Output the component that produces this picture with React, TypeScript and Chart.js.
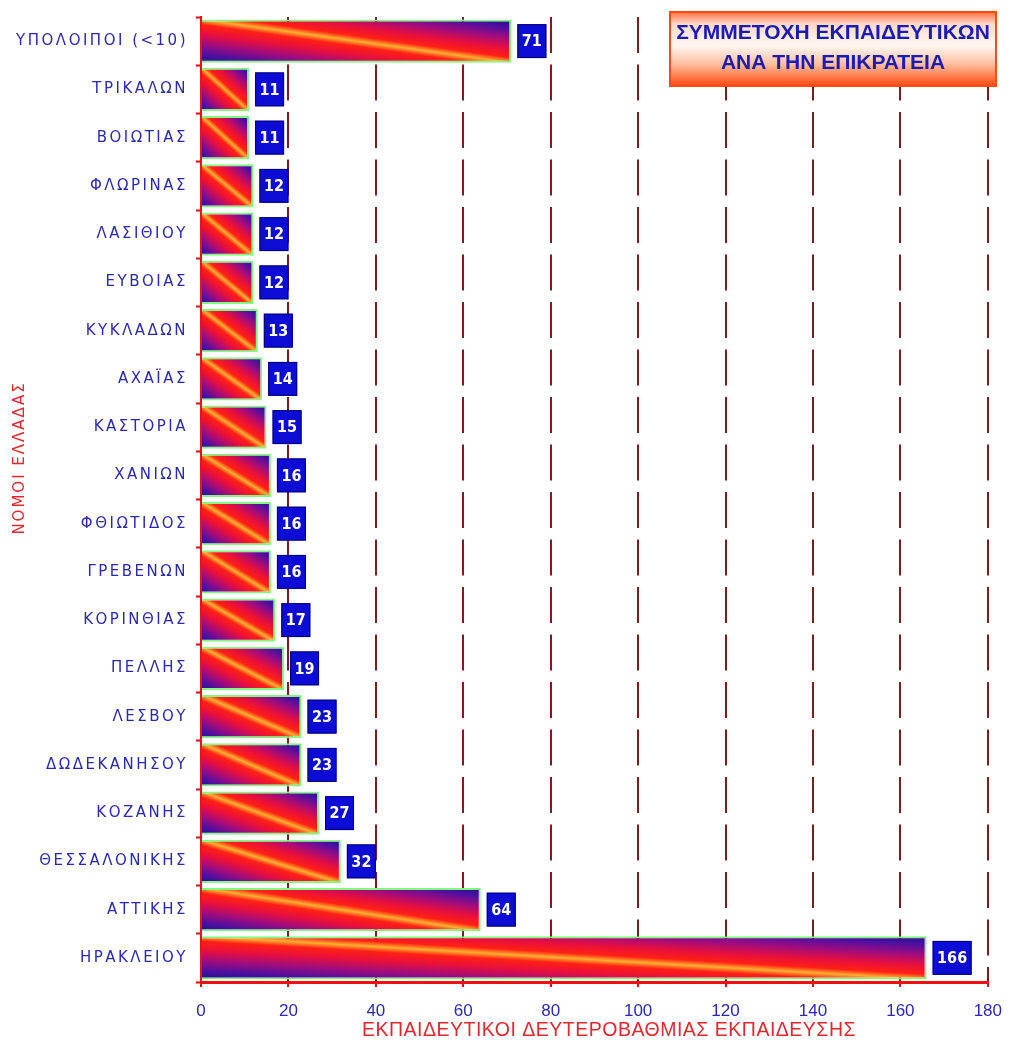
import React, { useEffect, useRef } from "react";
import { Chart, registerables } from "chart.js";

Chart.register(...registerables);

const categories = [
  "ΥΠΟΛΟΙΠΟΙ (<10)",
  "ΤΡΙΚΑΛΩΝ",
  "ΒΟΙΩΤΙΑΣ",
  "ΦΛΩΡΙΝΑΣ",
  "ΛΑΣΙΘΙΟΥ",
  "ΕΥΒΟΙΑΣ",
  "ΚΥΚΛΑΔΩΝ",
  "ΑΧΑΪΑΣ",
  "ΚΑΣΤΟΡΙΑ",
  "ΧΑΝΙΩΝ",
  "ΦΘΙΩΤΙΔΟΣ",
  "ΓΡΕΒΕΝΩΝ",
  "ΚΟΡΙΝΘΙΑΣ",
  "ΠΕΛΛΗΣ",
  "ΛΕΣΒΟΥ",
  "ΔΩΔΕΚΑΝΗΣΟΥ",
  "ΚΟΖΑΝΗΣ",
  "ΘΕΣΣΑΛΟΝΙΚΗΣ",
  "ΑΤΤΙΚΗΣ",
  "ΗΡΑΚΛΕΙΟΥ",
];

const values = [71, 11, 11, 12, 12, 12, 13, 14, 15, 16, 16, 16, 17, 19, 23, 23, 27, 32, 64, 166];

const X_MIN = 0;
const X_MAX = 180;
const X_STEP = 20;

const chartTitleLines = ["ΣΥΜΜΕΤΟΧΗ ΕΚΠΑΙΔΕΥΤΙΚΩΝ", "ΑΝΑ ΤΗΝ ΕΠΙΚΡΑΤΕΙΑ"];
const xTitle = "ΕΚΠΑΙΔΕΥΤΙΚΟΙ ΔΕΥΤΕΡΟΒΑΘΜΙΑΣ ΕΚΠΑΙΔΕΥΣΗΣ";
const yTitle = "ΝΟΜΟΙ ΕΛΛΑΔΑΣ";

const BAR_PCT = 0.9;
const W = 1016;
const H = 1048;

function barGradient(ctx: CanvasRenderingContext2D, x0: number, x1: number, yTop: number, yBot: number) {
  const w = Math.max(1, x1 - x0);
  const h = Math.max(1, yBot - yTop);
  const cx = (x0 + x1) / 2;
  const cy = (yTop + yBot) / 2;
  const L = Math.hypot(w, h);
  const d = (w * h) / L;
  const nx = h / L;
  const ny = -w / L;
  const g = ctx.createLinearGradient(cx - nx * d, cy - ny * d, cx + nx * d, cy + ny * d);
  g.addColorStop(0, "#22108c");
  g.addColorStop(0.1, "#4c10a0");
  g.addColorStop(0.22, "#a20c7c");
  g.addColorStop(0.34, "#e8103c");
  g.addColorStop(0.44, "#ff2014");
  g.addColorStop(0.5, "#ffb030");
  g.addColorStop(0.56, "#ff2014");
  g.addColorStop(0.66, "#e8103c");
  g.addColorStop(0.78, "#a20c7c");
  g.addColorStop(0.9, "#4c10a0");
  g.addColorStop(1, "#22108c");
  return g;
}

const spacingPlugin = {
  id: "spacingPlugin",
  beforeDraw(chart: any) {
    chart.ctx.letterSpacing = "2.5px";
  },
  beforeDatasetsDraw(chart: any) {
    chart.ctx.letterSpacing = "0px";
  },
};

const valueLabels = {
  id: "valueLabels",
  afterDatasetsDraw(chart: any) {
    const ctx: CanvasRenderingContext2D = chart.ctx;
    const meta = chart.getDatasetMeta(0);
    ctx.save();
    (ctx as any).letterSpacing = "0px";
    ctx.font = "bold 16px 'Liberation Sans Narrow', 'DejaVu Sans Condensed', sans-serif";
    meta.data.forEach((el: any, i: number) => {
      const { x, y, height } = el.getProps(["x", "y", "height"], true);
      const txt = String(values[i]);
      const tw = ctx.measureText(txt).width;
      const bw = Math.max(23, Math.round(tw + 9));
      const bh = height * 0.78;
      const bx = x + 6;
      ctx.fillStyle = "#0c0cd4";
      ctx.fillRect(bx, y - bh / 2, bw, bh);
      ctx.strokeStyle = "#000078";
      ctx.lineWidth = 1;
      ctx.strokeRect(bx + 0.5, y - bh / 2 + 0.5, bw - 1, bh - 1);
      ctx.fillStyle = "#fffff0";
      ctx.textAlign = "center";
      ctx.textBaseline = "middle";
      ctx.fillText(txt, bx + bw / 2, y + 1);
    });
    ctx.restore();
  },
};

const titlesPlugin = {
  id: "titlesPlugin",
  afterDraw(chart: any) {
    const ctx: CanvasRenderingContext2D = chart.ctx;
    ctx.save();

    // y axis title
    (ctx as any).letterSpacing = "2px";
    ctx.font = "15px 'DejaVu Sans', sans-serif";
    ctx.fillStyle = "#e02830";
    ctx.textAlign = "center";
    ctx.textBaseline = "middle";
    ctx.translate(20, 458);
    ctx.rotate(-Math.PI / 2);
    ctx.fillText(yTitle, 0, 0);
    ctx.setTransform(1, 0, 0, 1, 0, 0);

    // x axis title
    (ctx as any).letterSpacing = "0.5px";
    ctx.font = "19.5px 'Liberation Sans', Arial, sans-serif";
    ctx.fillStyle = "#e02830";
    ctx.fillText(xTitle, 609, 1031);

    // chart title box
    (ctx as any).letterSpacing = "0px";
    const bx = 670, by = 12, bw = 326, bh = 74;
    const g = ctx.createLinearGradient(0, by, 0, by + bh);
    g.addColorStop(0, "#ff7040");
    g.addColorStop(0.16, "#ffd8c8");
    g.addColorStop(0.45, "#fff8f4");
    g.addColorStop(0.7, "#ffc0a0");
    g.addColorStop(1, "#ff4a10");
    ctx.fillStyle = g;
    ctx.fillRect(bx, by, bw, bh);
    ctx.strokeStyle = "#ff4a18";
    ctx.lineWidth = 2;
    ctx.strokeRect(bx, by, bw, bh);
    ctx.font = "bold 21px 'Liberation Sans', Arial, sans-serif";
    ctx.fillStyle = "#1a1ab4";
    ctx.textAlign = "center";
    ctx.textBaseline = "middle";
    ctx.fillText(chartTitleLines[0], bx + bw / 2, 33, 318);
    ctx.fillText(chartTitleLines[1], bx + bw / 2, 63, 318);
    ctx.restore();
  },
};

export default function App() {
  const canvasRef = useRef<HTMLCanvasElement | null>(null);

  useEffect(() => {
    const canvas = canvasRef.current;
    if (!canvas) return;
    const chart = new Chart(canvas, {
      type: "bar",
      data: {
        labels: categories,
        datasets: [
          {
            data: values,
            barPercentage: BAR_PCT,
            categoryPercentage: 1,
            borderColor: "#80fa80",
            borderWidth: 2,
            borderSkipped: "start",
            backgroundColor: (c: any) => {
              const ch = c.chart;
              if (c.type !== "data" || !ch.chartArea || !ch.scales.x || !ch.scales.y) return "#d01030";
              const xs = ch.scales.x;
              const ys = ch.scales.y;
              const x0 = xs.getPixelForValue(0);
              const x1 = xs.getPixelForValue(c.raw as number);
              const yc = ys.getPixelForValue(c.dataIndex);
              const h = (ys.height / categories.length) * BAR_PCT;
              return barGradient(ch.ctx, x0, x1, yc - h / 2, yc + h / 2);
            },
          },
        ],
      },
      options: {
        indexAxis: "y",
        responsive: false,
        animation: false,
        events: [],
        devicePixelRatio: 1,
        layout: { padding: { top: 15, right: 19, left: 0, bottom: 0 } },
        plugins: {
          legend: { display: false },
          tooltip: { enabled: false },
          title: { display: false },
        },
        scales: {
          x: {
            type: "linear",
            min: X_MIN,
            max: X_MAX,
            ticks: {
              stepSize: X_STEP,
              color: "#2a2ab0",
              font: { family: "'Liberation Sans', Arial, sans-serif", size: 17 },
              padding: 14,
              z: 1,
            },
            grid: {
              color: "#7a1e1e",
              lineWidth: 2,
              drawTicks: true,
              tickLength: 5,
              tickColor: "#e01010",
              tickWidth: 2,
            },
            border: {
              display: true,
              color: "#f01010",
              width: 3,
              dash: [36, 11.5],
            },
            afterFit: (scale: any) => {
              scale.height = H - 982;
            },
          },
          y: {
            type: "category",
            ticks: {
              color: "#2a2ab0",
              font: { family: "'DejaVu Sans', sans-serif", size: 15 },
              padding: 8,
              autoSkip: false,
            },
            grid: {
              offset: true,
              drawOnChartArea: false,
              drawTicks: true,
              tickLength: 5,
              tickColor: "#d01010",
              tickWidth: 2,
            },
            border: {
              display: true,
              color: "#f01010",
              width: 2,
              z: 1,
            },
            afterFit: (scale: any) => {
              scale.width = 201;
            },
          },
        },
      },
      plugins: [spacingPlugin, valueLabels, titlesPlugin],
    } as any);
    return () => chart.destroy();
  }, []);

  return (
    <div style={{ position: "fixed", left: 0, top: 0, width: W, height: H, background: "#ffffff" }}>
      <canvas ref={canvasRef} width={W} height={H} style={{ display: "block", width: W, height: H }} />
    </div>
  );
}
